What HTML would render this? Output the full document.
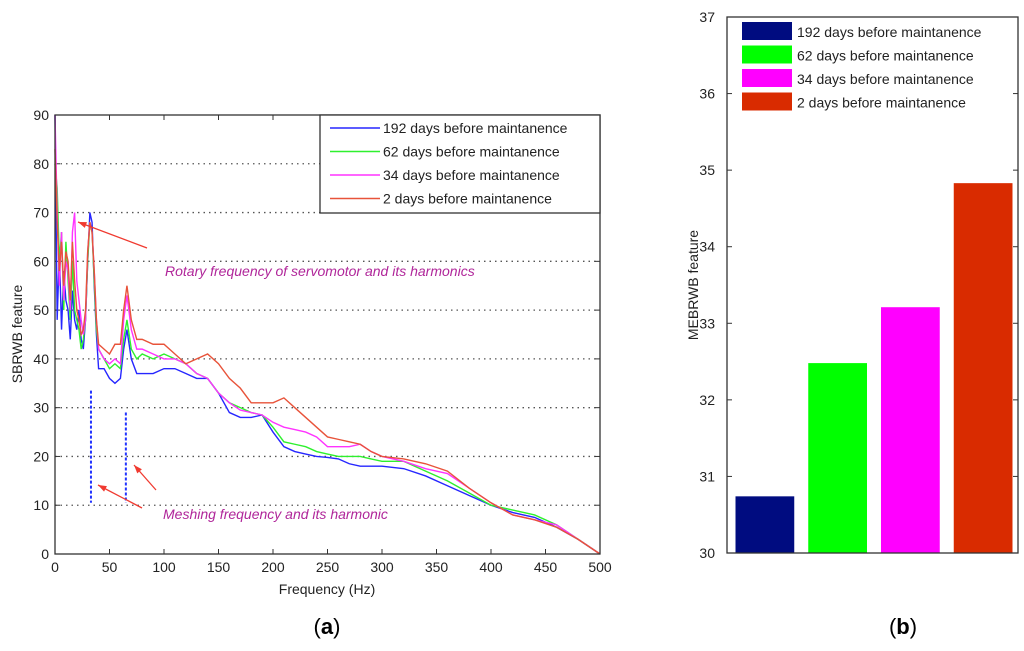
<!DOCTYPE html>
<html><head><meta charset="utf-8"><style>
body{margin:0;background:#fff;width:1024px;height:646px;overflow:hidden;font-family:"Liberation Sans",sans-serif}
svg text{font-family:"Liberation Sans",sans-serif}
</style></head><body>
<svg id="s" width="1024" height="646"></svg>
<script>
const freqs=[0,2,4,6,8,10,12,14,16,18,20,22,24,26,28,30,32,34,36,38,40,45,50,55,60,63,66,70,75,80,90,100,110,120,130,140,150,160,170,180,190,200,210,220,230,240,250,260,270,280,290,300,320,340,360,380,400,420,440,460,480,500];
const blue=[90,48,62,46,58,52,50,44,54,48,46,50,44,42,48,60,70,68,55,45,38,38,36,35,36,42,46,40,37,37,37,38,38,37,36,36,33,29,28,28,28.5,25,22,21,20.5,20,19.8,19.5,18.5,18,18,18,17.5,16,14,12,10,8.5,7.5,5.5,3,0];
const green=[80,75,60,66,50,64,56,48,60,50,48,46,42,44,48,60,68,66,56,46,42,40,38,39,38,44,48,42,40,41,40,41,40,39,37,36,33,31,30,29,28.5,26,23,22.5,22,21,20.5,20,20,20,19.5,19,19,17,15,12.5,10,9,8,6,3,0];
const magenta=[90,70,55,66,52,60,58,50,66,70,56,52,48,45,48,62,68,66,58,48,42,40,39,40,39,48,53,46,42,42,41,40,40,39,37,36,33,31,29.5,29,28.5,27,26,25.5,25,24,22,22,22,22.5,21,20,19,17.5,16.5,13.5,10.5,8,7,6,3,0];
const red=[83,68,58,64,55,62,60,52,64,56,50,48,45,46,50,62,68,66,58,48,43,42,41,43,43,50,55,48,44,44,43,43,41,39,40,41,39,36,34,31,31,31,32,30,28,26,24,23.5,23,22.5,21,20,19.5,18.5,17,13.5,10.5,8,7,5.5,3,0];
const legendLabels=["192 days before maintanence","62 days before maintanence","34 days before maintanence","2 days before maintanence"];
const barValues=[30.74,32.48,33.21,34.83];
const xTicks=[0,50,100,150,200,250,300,350,400,450,500];
const yTicks=[0,10,20,30,40,50,60,70,80,90];
const bTicks=[30,31,32,33,34,35,36,37];
const colors=["#2626ff","#2ef02e","#ff33ff","#e8533a"];
const barColors=["#000c80","#00ff00","#ff00ff","#d92b00"];
const NS="http://www.w3.org/2000/svg",s=document.getElementById('s');
function el(t,a,txt){const e=document.createElementNS(NS,t);for(const k in a)e.setAttribute(k,a[k]);if(txt!=null)e.textContent=txt;s.appendChild(e);return e;}
const L=55,R=600,T=115,B=554;
const X=v=>L+(v-0)/500*(R-L), Y=v=>B-v/90*(B-T);
yTicks.forEach(v=>{if(v>0&&v<90){const g=el('line',{x1:L,x2:R,y1:Y(v),y2:Y(v),stroke:'#555','stroke-dasharray':'1.5,4','stroke-width':1.3});}
 const t=el('text',{x:L-6,y:Y(v)+5,'text-anchor':'end','font-size':14,fill:'#222'},v);
 el('line',{x1:L,x2:L+5,y1:Y(v),y2:Y(v),stroke:'#333'});el('line',{x1:R,x2:R-5,y1:Y(v),y2:Y(v),stroke:'#333'});});
xTicks.forEach(v=>{const t=el('text',{x:X(v),y:B+18,'text-anchor':'middle','font-size':14,fill:'#222'},v);
 el('line',{x1:X(v),x2:X(v),y1:B,y2:B-5,stroke:'#333'});el('line',{x1:X(v),x2:X(v),y1:T,y2:T+5,stroke:'#333'});});
[blue,green,magenta,red].forEach((ser,i)=>{const p=el('polyline',{points:ser.map((v,j)=>X(freqs[j])+','+Y(v)).join(' '),fill:'none',stroke:colors[i],'stroke-width':1.4});
 });
[33,65].forEach((f,i)=>{const d=el('line',{x1:X(f),x2:X(f),y1:Y(i?29:33.5),y2:Y(10.5),stroke:'#2233ff','stroke-width':2,'stroke-dasharray':'3,2'});});
function arrow(x1,y1,x2,y2){const a=el('line',{x1,y1,x2,y2,stroke:'#f03a30','stroke-width':1.3});
 const ang=Math.atan2(y2-y1,x2-x1),h=9;el('polygon',{points:`${x2},${y2} ${x2-h*Math.cos(ang-0.35)},${y2-h*Math.sin(ang-0.35)} ${x2-h*Math.cos(ang+0.35)},${y2-h*Math.sin(ang+0.35)}`,fill:'#f03a30'});}
arrow(147,248,78,222);arrow(142,508,98,485);arrow(156,490,134,465);
let t=el('text',{x:165,y:276,'font-size':14,'font-style':'italic',fill:'#b0269a'},'Rotary frequency of servomotor and its harmonics');
t=el('text',{x:163,y:519,'font-size':14,'font-style':'italic',fill:'#b0269a'},'Meshing frequency and its harmonic');
let r=el('rect',{x:L,y:T,width:R-L,height:B-T,fill:'none',stroke:'#333','stroke-width':1.3});
r=el('rect',{x:320,y:115,width:280,height:98,fill:'#fff',stroke:'#333','stroke-width':1.3});
legendLabels.forEach((lb,i)=>{const y=128+i*23.5;el('line',{x1:330,x2:380,y1:y,y2:y,stroke:colors[i],'stroke-width':1.5});
 const e=el('text',{x:383,y:y+5,'font-size':14,fill:'#222'},lb);});
t=el('text',{x:327,y:594,'text-anchor':'middle','font-size':14,fill:'#222'},'Frequency (Hz)');
t=el('text',{x:22,y:334,'text-anchor':'middle','font-size':14,fill:'#222',transform:'rotate(-90 22 334)'},'SBRWB feature');
t=el('text',{x:327,y:634,'text-anchor':'middle','font-size':22,'font-family':'Liberation Serif',fill:'#000'},'');t.innerHTML='(<tspan font-weight="bold">a</tspan>)';
const BL=727,BR=1018,BT=17,BB=553;const BY=v=>BB-(v-30)/7*(BB-BT);
bTicks.forEach(v=>{const e=el('text',{x:BL-12,y:BY(v)+5,'text-anchor':'end','font-size':14,fill:'#222'},v);
 el('line',{x1:BL,x2:BL+5,y1:BY(v),y2:BY(v),stroke:'#333'});el('line',{x1:BR,x2:BR-5,y1:BY(v),y2:BY(v),stroke:'#333'});});
const bw=(BR-BL)/4;
barValues.forEach((v,i)=>{const b=el('rect',{x:BL+bw*i+8.5,y:BY(v),width:bw-14,height:BB-BY(v),fill:barColors[i]});});
r=el('rect',{x:BL,y:BT,width:BR-BL,height:BB-BT,fill:'none',stroke:'#333','stroke-width':1.3});
legendLabels.forEach((lb,i)=>{const y=22+i*23.5;el('rect',{x:742,y:y,width:50,height:18,fill:barColors[i]});
 const e=el('text',{x:797,y:y+15,'font-size':14,fill:'#222'},lb);});
t=el('text',{x:698,y:285,'text-anchor':'middle','font-size':14,fill:'#222',transform:'rotate(-90 698 285)'},'MEBRWB feature');
t=el('text',{x:903,y:634,'text-anchor':'middle','font-size':22,'font-family':'Liberation Serif',fill:'#000'},'');t.innerHTML='(<tspan font-weight="bold">b</tspan>)';
</script>
</body></html>
